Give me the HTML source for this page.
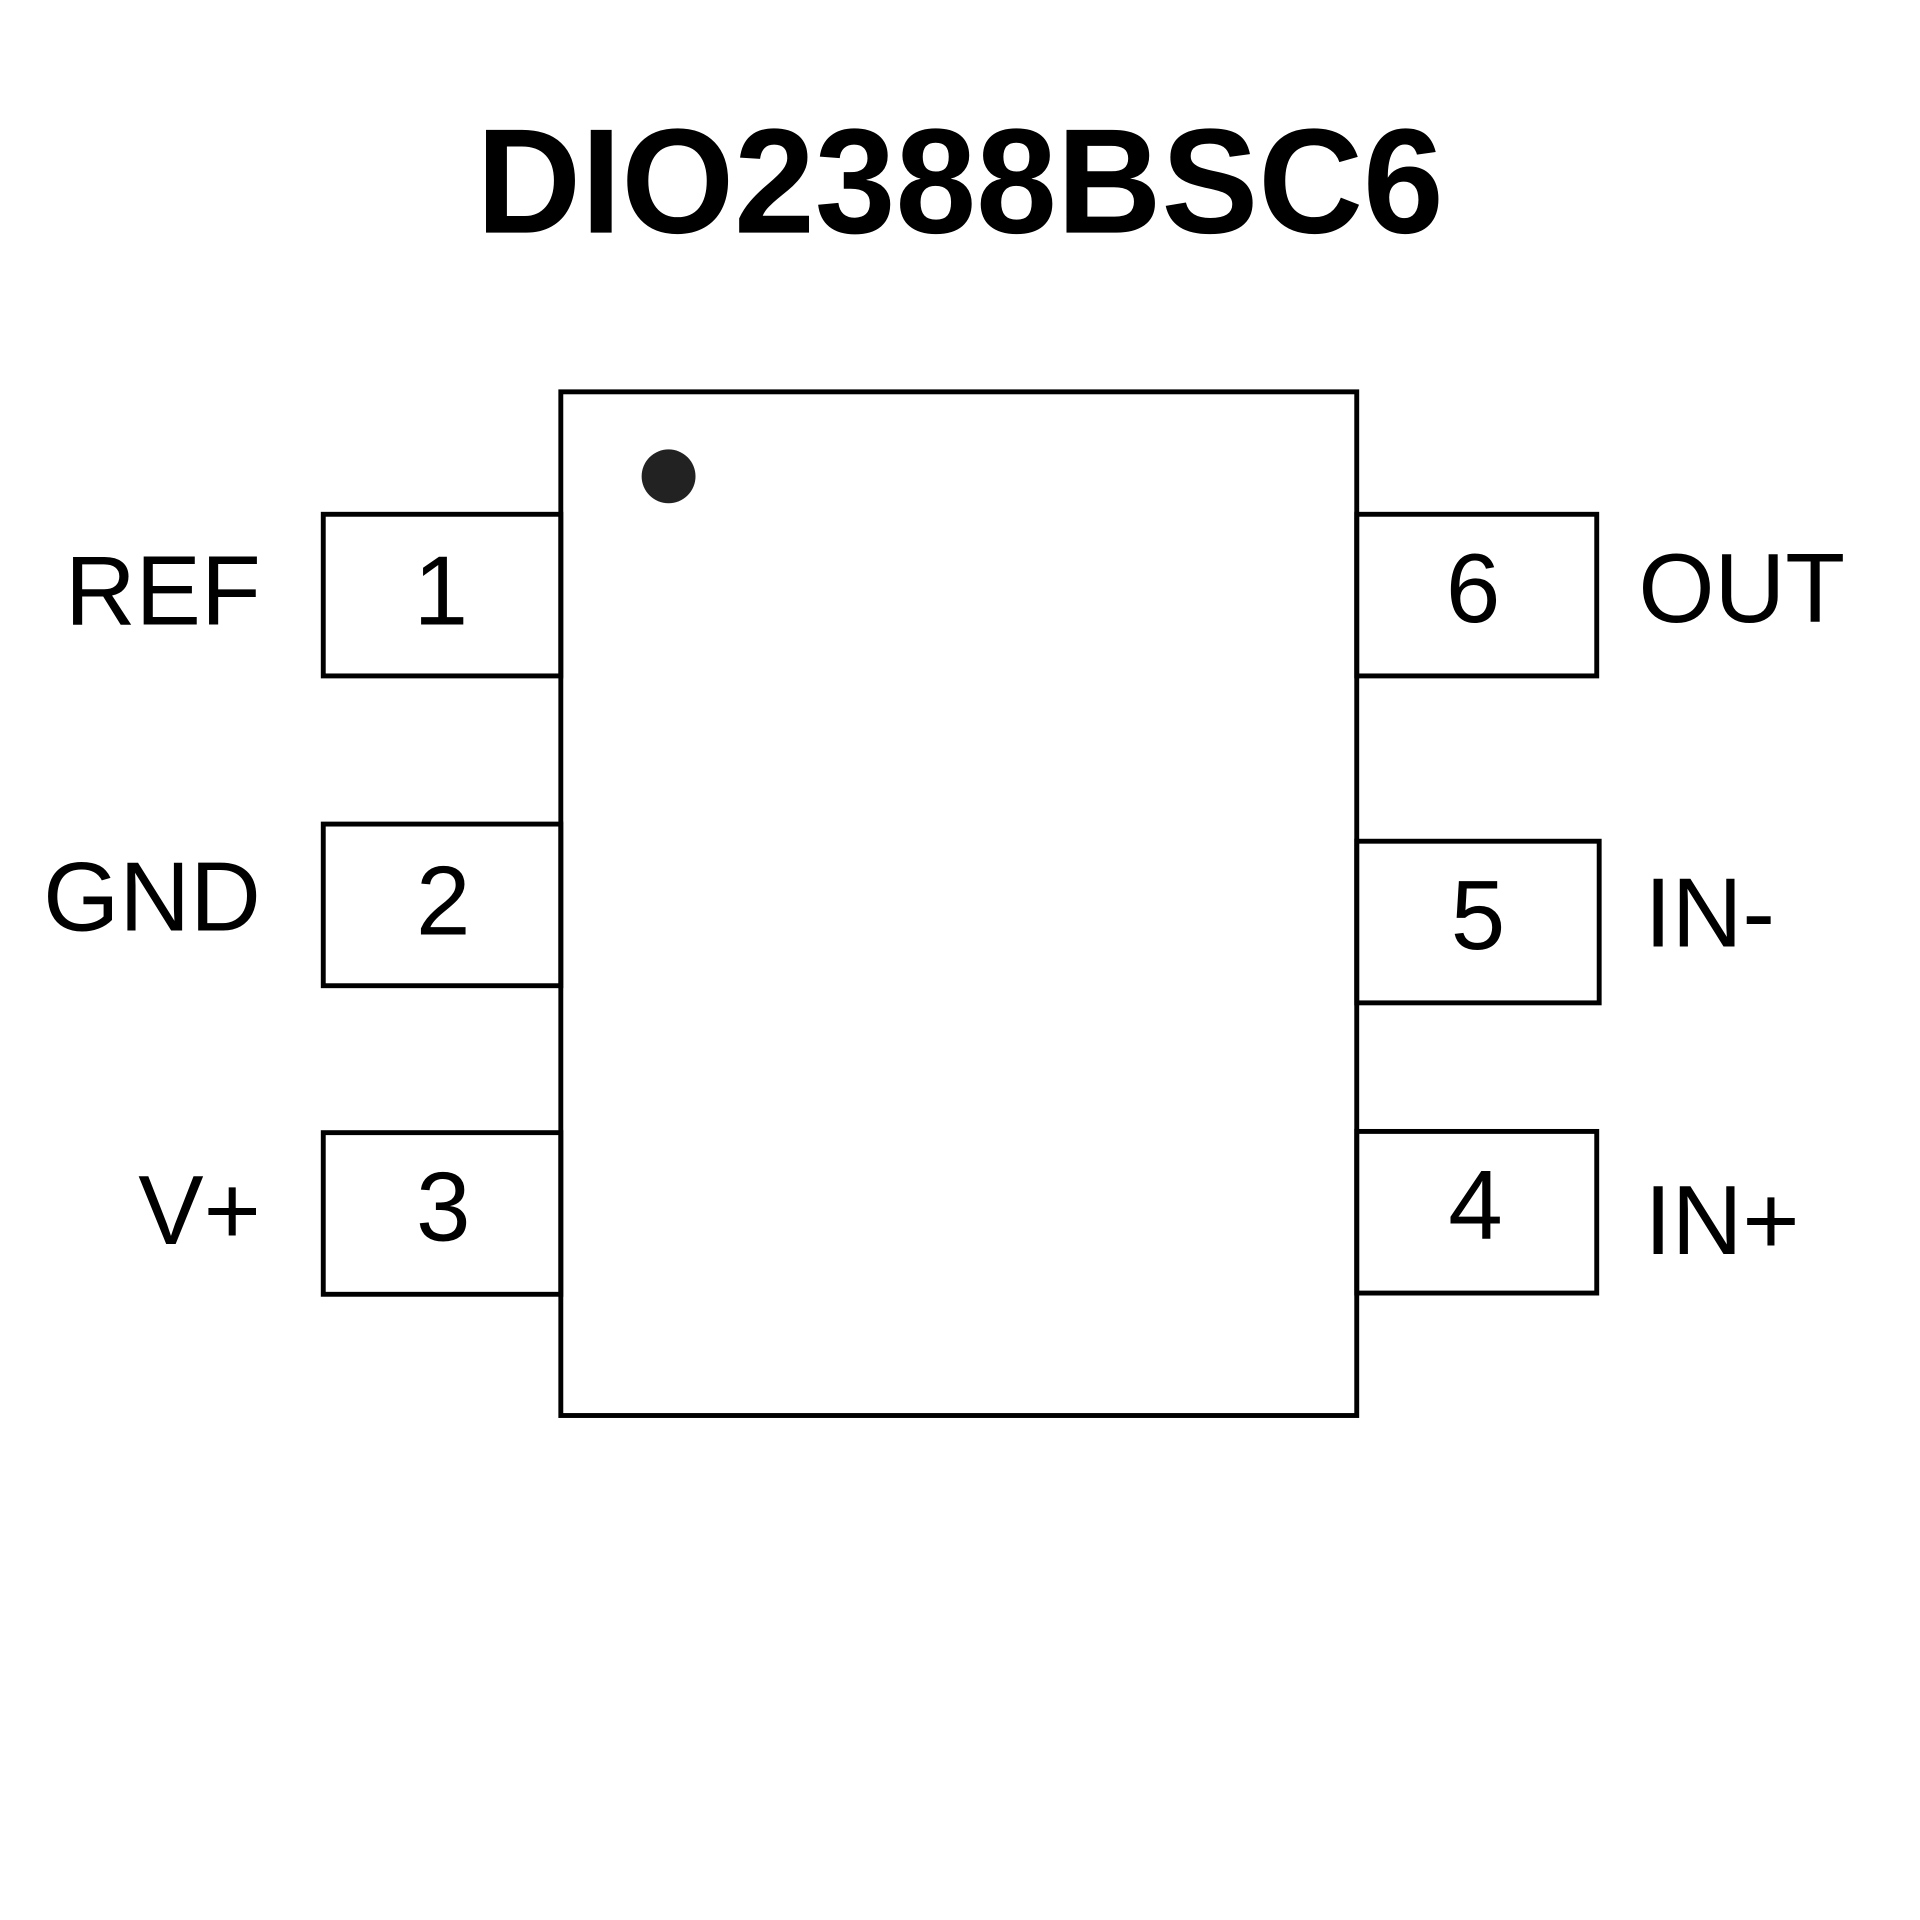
<!DOCTYPE html>
<html>
<head>
<meta charset="utf-8">
<style>
html,body{margin:0;padding:0;background:#fff;}
svg{display:block;}
</style>
</head>
<body>
<svg width="1920" height="1920" viewBox="0 0 1568 1568" xmlns="http://www.w3.org/2000/svg">
<rect width="1568" height="1568" fill="#fff"/>
<text x="784" y="190" text-anchor="middle" font-family="Liberation Sans, sans-serif" font-weight="bold" font-size="122" textLength="790" lengthAdjust="spacingAndGlyphs" fill="#000">DIO2388BSC6</text>
<g fill="none" stroke="#000" stroke-width="4">
<rect x="458" y="320" width="650" height="836"/>
<rect x="264" y="420" width="194" height="132"/>
<rect x="264" y="673" width="194" height="132"/>
<rect x="264" y="925" width="194" height="132"/>
<rect x="1108" y="420" width="196" height="132"/>
<rect x="1108" y="687" width="198" height="132"/>
<rect x="1108" y="924" width="196" height="132"/>
</g>
<circle cx="546" cy="389" r="22" fill="#222"/>
<g font-family="Liberation Sans, sans-serif" font-size="80" fill="#000">
<text x="213" y="510" text-anchor="end">REF</text>
<text x="213" y="760" text-anchor="end">GND</text>
<text x="213" y="1016" text-anchor="end">V+</text>
<text x="1338" y="508">OUT</text>
<text x="1343" y="773">IN-</text>
<text x="1343" y="1024">IN+</text>
<text x="360" y="510" text-anchor="middle">1</text>
<text x="362" y="763" text-anchor="middle">2</text>
<text x="362" y="1013" text-anchor="middle">3</text>
<text x="1203" y="508" text-anchor="middle">6</text>
<text x="1207" y="775" text-anchor="middle">5</text>
<text x="1205" y="1012" text-anchor="middle">4</text>
</g>
</svg>
</body>
</html>
